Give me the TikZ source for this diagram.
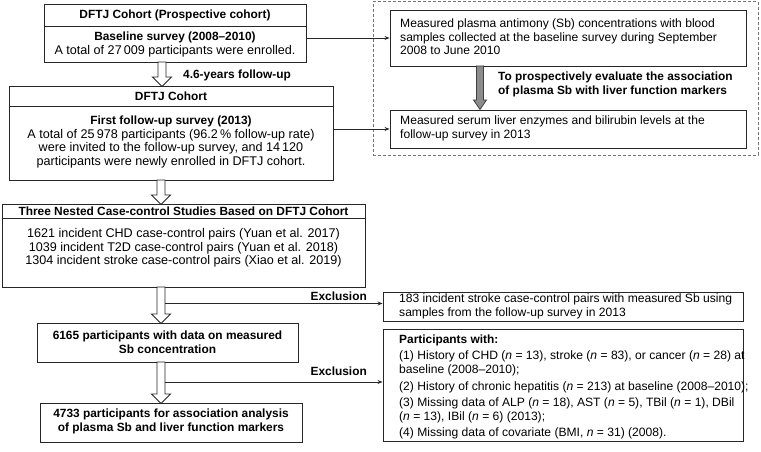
\documentclass[tikz,border=0pt]{standalone}
\usepackage{fontspec}
\setmainfont{Liberation Sans}
\usetikzlibrary{arrows.meta,calc}
\newcommand\hollowarrow[3]{%
  \draw[hollow] (#1-4,#2) -- (#1-4,#3-9.5) -- (#1-9.5,#3-9.5) -- (#1,#3) -- (#1+9.5,#3-9.5) -- (#1+4,#3-9.5) -- (#1+4,#2) -- cycle;}
\begin{document}
\begin{tikzpicture}[x=1pt,y=-1pt]
\tikzset{
  box/.style={draw=black!85,line width=0.9pt,inner sep=0pt},
  dashbox/.style={draw=black!55,line width=1pt,dash pattern=on 3pt off 2pt,inner sep=0pt},
  reg/.style={font=\fontsize{12.6}{13.4}\selectfont,inner sep=0pt,align=center},
  regr/.style={font=\fontsize{12.1}{13.6}\selectfont,inner sep=0pt,align=left,anchor=west},
  bld/.style={font=\bfseries\fontsize{11.9}{13.6}\selectfont,inner sep=0pt,align=center},
  divider/.style={draw=black!85,line width=0.9pt},
  hollow/.style={draw=black!85,line width=0.9pt,fill=white},
  grayarrow/.style={draw=black!75,line width=0.8pt,fill=black!45},
  conn/.style={draw=black!85,line width=0.9pt,-{Stealth[length=5pt,width=4pt]}},
}
\useasboundingbox (0,0) rectangle (761,452);
% ---- left column ----
\node[box,minimum width=262pt,minimum height=58pt] (b1) at (175,33) {};
\coordinate (d1) at (0,26);
\draw[divider] (b1.west |- d1) -- (b1.east |- d1);
\node[bld] (t1) at (175,15) {DFTJ Cohort (Prospective cohort)};
\node[reg] (s1) at (175,44.5) {{\bfseries\fontsize{11.9}{13.4}\selectfont Baseline survey (2008–2010)}\\[1.5pt]A total of 27\,009 participants were enrolled.};

\hollowarrow{162}{62}{86.5}
\node[bld,anchor=west] (l1) at (183,75) {4.6-years follow-up};

\node[box,minimum width=324pt,minimum height=94pt] (b2) at (171,133) {};
\coordinate (d2) at (0,106);
\draw[divider] (b2.west |- d2) -- (b2.east |- d2);
\node[bld] (t2) at (171,96) {DFTJ Cohort};
\node[reg] (s2) at (171,142) {{\bfseries\fontsize{11.9}{13.4}\selectfont First follow-up survey (2013)}\\A total of 25\,978 participants (96.2\,\% follow-up rate)\\were invited to the follow-up survey, and 14\,120\\participants were newly enrolled in DFTJ cohort.};

\hollowarrow{161}{180}{204.5}

\node[box,minimum width=363pt,minimum height=83pt] (b3) at (183.5,245.5) {};
\coordinate (d3) at (0,218);
\draw[divider] (b3.west |- d3) -- (b3.east |- d3);
\node[bld] (t3) at (183.5,211) {Three Nested Case-control Studies Based on DFTJ Cohort};
\node[reg] (s3) at (183.5,248) {1621 incident CHD case-control pairs (Yuan et al. 2017)\\1039 incident T2D case-control pairs (Yuan et al. 2018)\\1304 incident stroke case-control pairs (Xiao et al. 2019)};

\hollowarrow{161}{287}{323.5}

\node[box,minimum width=261pt,minimum height=39pt] (b4) at (167.5,342.5) {};
\node[bld] (s4) at (167.5,342) {6165 participants with data on measured\\Sb concentration};

\hollowarrow{161}{362}{403.5}

\node[box,minimum width=262pt,minimum height=39pt] (b5) at (171,422.5) {};
\node[bld] (s5) at (171,421.5) {4733 participants for association analysis\\of plasma Sb and liver function markers};

% ---- right column ----
\node[dashbox,minimum width=385pt,minimum height=153pt] (dash) at (565.5,78.5) {};
\node[box,minimum width=356pt,minimum height=56pt] (A) at (568,38) {};
\node[regr] (tA) at (400,37) {Measured plasma antimony (Sb) concentrations with blood\\samples collected at the baseline survey during September\\2008 to June 2010};
\node[box,minimum width=356pt,minimum height=38pt] (B) at (568,129) {};
\node[regr] (tB) at (400,128.5) {Measured serum liver enzymes and bilirubin levels at the\\follow-up survey in 2013};
\draw[grayarrow] (480-3.5,66) -- (480-3.5,100) -- (480-6.5,100) -- (480,109.5) -- (480+6.5,100) -- (480+3.5,100) -- (480+3.5,66) -- cycle;
\node[bld,align=left,anchor=west] (lA) at (498,84.5) {To prospectively evaluate the association\\of plasma Sb with liver function markers};

\draw[conn] (A.west -| b1.east) -- (A.west);
\draw[conn] (B.west -| b2.east) -- (B.west);

\node[box,minimum width=360pt,minimum height=29pt] (C) at (563,306.5) {};
\node[regr] (tC) at (399,306.5) {183 incident stroke case-control pairs with measured Sb using\\samples from the follow-up survey in 2013};

\node[box,minimum width=360pt,minimum height=112pt] (D) at (563,385) {};
\node[regr] (tD) at (399,387) {{\bfseries\fontsize{11.9}{13.6}\selectfont Participants with:}\\[3pt]
(1) History of CHD (\textit{n} = 13), stroke (\textit{n} = 83), or cancer (\textit{n} = 28) at\\
baseline (2008–2010);\\[3pt]
(2) History of chronic hepatitis (\textit{n} = 213) at baseline (2008–2010);\\[3pt]
(3) Missing data of ALP (\textit{n} = 18), AST (\textit{n} = 5), TBil (\textit{n} = 1), DBil\\
(\textit{n} = 13), IBil (\textit{n} = 6) (2013);\\[3pt]
(4) Missing data of covariate (BMI, \textit{n} = 31) (2008).};

\coordinate (e1) at (165,303.5);
\draw[conn] (e1) -- (e1 -| C.west);
\node[bld,anchor=east] (x1) at (367,296) {Exclusion};
\coordinate (e2) at (165,382);
\draw[conn] (e2) -- (e2 -| D.west);
\node[bld,anchor=east] (x2) at (367,371) {Exclusion};
\end{tikzpicture}
\end{document}
